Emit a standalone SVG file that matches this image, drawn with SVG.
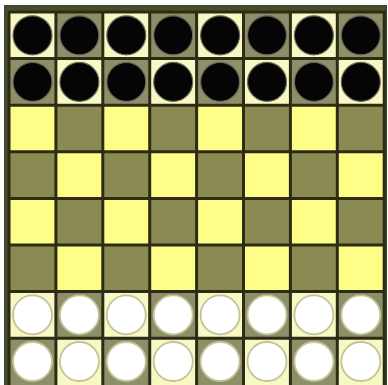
<svg xmlns="http://www.w3.org/2000/svg" width="388" height="385" viewBox="0 0 388 385">
<defs>
<style>
.L{fill:#fdfd88}.D{fill:#8a8a52}.PL{fill:#f8f8c4}.PD{fill:#8e8e68}
.b{fill:#050505;stroke:#6a6a5a;stroke-width:1.2}
.w{fill:#ffffff;stroke:#c4c49a;stroke-width:1.8}
.g{stroke:#2c2c14;stroke-width:3;fill:none}
</style>
</defs>
<rect x="0" y="0" width="388" height="385" fill="#ffffff"/>
<rect x="4" y="5" width="383" height="382" fill="#3c4a30"/>
<rect x="6" y="7" width="379" height="380" fill="#4c4c2a"/>
<g id="squares">
<rect class="PL" x="9" y="12" width="46.9" height="46.6"/><rect class="PD" x="55.9" y="12" width="46.9" height="46.6"/><rect class="PL" x="102.8" y="12" width="46.9" height="46.6"/><rect class="PD" x="149.7" y="12" width="46.9" height="46.6"/><rect class="PL" x="196.6" y="12" width="46.9" height="46.6"/><rect class="PD" x="243.5" y="12" width="46.9" height="46.6"/><rect class="PL" x="290.4" y="12" width="46.9" height="46.6"/><rect class="PD" x="337.3" y="12" width="46.9" height="46.6"/>
<rect class="PD" x="9" y="58.6" width="46.9" height="46.6"/><rect class="PL" x="55.9" y="58.6" width="46.9" height="46.6"/><rect class="PD" x="102.8" y="58.6" width="46.9" height="46.6"/><rect class="PL" x="149.7" y="58.6" width="46.9" height="46.6"/><rect class="PD" x="196.6" y="58.6" width="46.9" height="46.6"/><rect class="PL" x="243.5" y="58.6" width="46.9" height="46.6"/><rect class="PD" x="290.4" y="58.6" width="46.9" height="46.6"/><rect class="PL" x="337.3" y="58.6" width="46.9" height="46.6"/>
<rect class="L" x="9" y="105.2" width="46.9" height="46.6"/><rect class="D" x="55.9" y="105.2" width="46.9" height="46.6"/><rect class="L" x="102.8" y="105.2" width="46.9" height="46.6"/><rect class="D" x="149.7" y="105.2" width="46.9" height="46.6"/><rect class="L" x="196.6" y="105.2" width="46.9" height="46.6"/><rect class="D" x="243.5" y="105.2" width="46.9" height="46.6"/><rect class="L" x="290.4" y="105.2" width="46.9" height="46.6"/><rect class="D" x="337.3" y="105.2" width="46.9" height="46.6"/>
<rect class="D" x="9" y="151.8" width="46.9" height="46.6"/><rect class="L" x="55.9" y="151.8" width="46.9" height="46.6"/><rect class="D" x="102.8" y="151.8" width="46.9" height="46.6"/><rect class="L" x="149.7" y="151.8" width="46.9" height="46.6"/><rect class="D" x="196.6" y="151.8" width="46.9" height="46.6"/><rect class="L" x="243.5" y="151.8" width="46.9" height="46.6"/><rect class="D" x="290.4" y="151.8" width="46.9" height="46.6"/><rect class="L" x="337.3" y="151.8" width="46.9" height="46.6"/>
<rect class="L" x="9" y="198.4" width="46.9" height="46.6"/><rect class="D" x="55.9" y="198.4" width="46.9" height="46.6"/><rect class="L" x="102.8" y="198.4" width="46.9" height="46.6"/><rect class="D" x="149.7" y="198.4" width="46.9" height="46.6"/><rect class="L" x="196.6" y="198.4" width="46.9" height="46.6"/><rect class="D" x="243.5" y="198.4" width="46.9" height="46.6"/><rect class="L" x="290.4" y="198.4" width="46.9" height="46.6"/><rect class="D" x="337.3" y="198.4" width="46.9" height="46.6"/>
<rect class="D" x="9" y="245" width="46.9" height="46.6"/><rect class="L" x="55.9" y="245" width="46.9" height="46.6"/><rect class="D" x="102.8" y="245" width="46.9" height="46.6"/><rect class="L" x="149.7" y="245" width="46.9" height="46.6"/><rect class="D" x="196.6" y="245" width="46.9" height="46.6"/><rect class="L" x="243.5" y="245" width="46.9" height="46.6"/><rect class="D" x="290.4" y="245" width="46.9" height="46.6"/><rect class="L" x="337.3" y="245" width="46.9" height="46.6"/>
<rect class="PL" x="9" y="291.6" width="46.9" height="46.6"/><rect class="PD" x="55.9" y="291.6" width="46.9" height="46.6"/><rect class="PL" x="102.8" y="291.6" width="46.9" height="46.6"/><rect class="PD" x="149.7" y="291.6" width="46.9" height="46.6"/><rect class="PL" x="196.6" y="291.6" width="46.9" height="46.6"/><rect class="PD" x="243.5" y="291.6" width="46.9" height="46.6"/><rect class="PL" x="290.4" y="291.6" width="46.9" height="46.6"/><rect class="PD" x="337.3" y="291.6" width="46.9" height="46.6"/>
<rect class="PD" x="9" y="338.2" width="46.9" height="46.8"/><rect class="PL" x="55.9" y="338.2" width="46.9" height="46.8"/><rect class="PD" x="102.8" y="338.2" width="46.9" height="46.8"/><rect class="PL" x="149.7" y="338.2" width="46.9" height="46.8"/><rect class="PD" x="196.6" y="338.2" width="46.9" height="46.8"/><rect class="PL" x="243.5" y="338.2" width="46.9" height="46.8"/><rect class="PD" x="290.4" y="338.2" width="46.9" height="46.8"/><rect class="PL" x="337.3" y="338.2" width="46.9" height="46.8"/>
</g>
<g id="grid" class="g">
<path d="M55.9 12V385M102.8 12V385M149.7 12V385M196.6 12V385M243.5 12V385M290.4 12V385M337.3 12V385"/>
<path d="M9 58.6H384M9 105.2H384M9 151.8H384M9 198.4H384M9 245H384M9 291.6H384M9 338.2H384"/>
<rect x="9" y="12" width="375.2" height="375"/>
</g>
<g id="black-pieces">
<circle class="b" cx="32.5" cy="35.3" r="19.5"/><circle class="b" cx="79.4" cy="35.3" r="19.5"/><circle class="b" cx="126.3" cy="35.3" r="19.5"/><circle class="b" cx="173.2" cy="35.3" r="19.5"/><circle class="b" cx="220.1" cy="35.3" r="19.5"/><circle class="b" cx="267" cy="35.3" r="19.5"/><circle class="b" cx="313.9" cy="35.3" r="19.5"/><circle class="b" cx="360.8" cy="35.3" r="19.5"/>
<circle class="b" cx="32.5" cy="81.9" r="19.5"/><circle class="b" cx="79.4" cy="81.9" r="19.5"/><circle class="b" cx="126.3" cy="81.9" r="19.5"/><circle class="b" cx="173.2" cy="81.9" r="19.5"/><circle class="b" cx="220.1" cy="81.9" r="19.5"/><circle class="b" cx="267" cy="81.9" r="19.5"/><circle class="b" cx="313.9" cy="81.9" r="19.5"/><circle class="b" cx="360.8" cy="81.9" r="19.5"/>
</g>
<g id="white-pieces">
<circle class="w" cx="32.5" cy="314.9" r="19.5"/><circle class="w" cx="79.4" cy="314.9" r="19.5"/><circle class="w" cx="126.3" cy="314.9" r="19.5"/><circle class="w" cx="173.2" cy="314.9" r="19.5"/><circle class="w" cx="220.1" cy="314.9" r="19.5"/><circle class="w" cx="267" cy="314.9" r="19.5"/><circle class="w" cx="313.9" cy="314.9" r="19.5"/><circle class="w" cx="360.8" cy="314.9" r="19.5"/>
<circle class="w" cx="32.5" cy="361.5" r="19.5"/><circle class="w" cx="79.4" cy="361.5" r="19.5"/><circle class="w" cx="126.3" cy="361.5" r="19.5"/><circle class="w" cx="173.2" cy="361.5" r="19.5"/><circle class="w" cx="220.1" cy="361.5" r="19.5"/><circle class="w" cx="267" cy="361.5" r="19.5"/><circle class="w" cx="313.9" cy="361.5" r="19.5"/><circle class="w" cx="360.8" cy="361.5" r="19.5"/>
</g>
</svg>
